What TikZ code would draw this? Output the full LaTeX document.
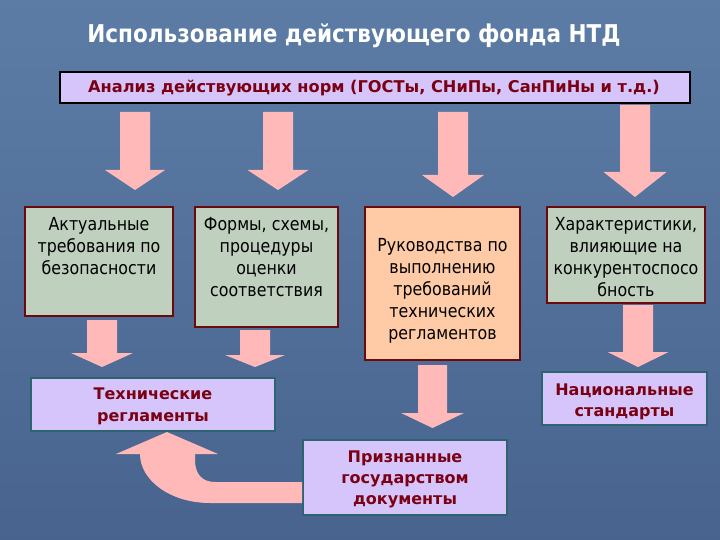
\documentclass[tikz,border=0pt]{standalone}
\usepackage{fontspec}
\setmainfont{DejaVu Sans}[FakeStretch=0.88]
\newfontfamily\widesans{DejaVu Sans}
\definecolor{bgtop}{RGB}{92,124,166}
\definecolor{bgbot}{RGB}{72,100,142}
\definecolor{pinkfill}{RGB}{255,185,185}
\definecolor{greenfill}{RGB}{191,208,191}
\definecolor{peachfill}{RGB}{255,203,166}
\definecolor{lavfill}{RGB}{213,197,250}
\definecolor{redline}{RGB}{106,10,10}
\definecolor{tealline}{RGB}{45,100,112}
\definecolor{redtext}{RGB}{122,0,20}
\newcommand\myarrow[6]{%
  \fill[pinkfill] (#1,#3) -- (#2,#3) -- (#2,#4) -- ({#2+#5},#4) -- ({(#1+#2)/2},#6) -- ({#1-#5},#4) -- (#1,#4) -- cycle;}
\begin{document}
\begin{tikzpicture}[x=1pt,y=-1pt,
  regbox/.style={draw=redline,line width=2.4pt,inner sep=0pt},
  lavbox/.style={draw=tealline,fill=lavfill,line width=2pt,inner sep=0pt},
  regtext/.style={inner sep=0pt,align=center,anchor=north,font=\fontsize{18}{22}\selectfont,text=black},
  boldtext/.style={inner sep=0pt,align=center,anchor=north,font=\widesans\bfseries\fontsize{16}{21}\selectfont,text=redtext}]
\useasboundingbox (0,0) rectangle (720,540);
\shade[top color=bgtop,bottom color=bgbot] (0,0) rectangle (720,540);
% title
\node[anchor=base,text=white,font=\bfseries\fontsize{24.5}{28}\selectfont,inner sep=0pt] (title) at (354,43) {Использование действующего фонда НТД};
% top box
\node[draw=black,fill=lavfill,line width=2pt,minimum width=630,minimum height=31,inner sep=0pt] (top) at (375,87.5) {};
\node[anchor=base,text=redtext,font=\widesans\bfseries\fontsize{16.2}{20}\selectfont,inner sep=0pt] (toptext) at (374,93) {Анализ действующих норм (ГОСТы, СНиПы, СанПиНы и т.д.)};
% arrows from top
\myarrow{120}{150}{112}{170}{15}{190}
\myarrow{263}{293}{112}{170}{15.5}{190}
\myarrow{438}{468}{112}{175}{16}{197}
\myarrow{620}{650}{105}{172}{16.5}{197}
% level 2 boxes
\node[regbox,fill=greenfill,minimum width=148,minimum height=109] (A) at (99,261.5) {};
\node[regbox,fill=greenfill,minimum width=143,minimum height=120] (B) at (266.5,267) {};
\node[regbox,fill=peachfill,minimum width=155,minimum height=153] (C) at (442.5,283.5) {};
\node[regbox,fill=greenfill,minimum width=158,minimum height=96] (D) at (626,255) {};
\node[regtext] (Atext) at (99,214.6) {\strut Актуальные\\требования по\\безопасности};
\node[regtext] (Btext) at (266.5,214.6) {\strut Формы, схемы,\\процедуры\\оценки\\соответствия};
\node[regtext] (Ctext) at (442.5,235.6) {\strut Руководства по\\выполнению\\требований\\технических\\регламентов};
\node[regtext] (Dtext) at (626,214.6) {\strut Характеристики,\\влияющие на\\конкурентоспосо\\бность};
% arrows level 2
\myarrow{87}{117}{320}{353}{16}{367}
\myarrow{240}{270}{330}{355}{15}{367}
\myarrow{418}{447}{365}{413}{17}{428}
\myarrow{623}{653}{305}{352}{15.5}{367}
% bottom boxes
\node[lavbox,minimum width=244,minimum height=53] (TR) at (153,404.5) {};
\node[lavbox,minimum width=165,minimum height=53] (NS) at (624.5,398.5) {};
\node[lavbox,minimum width=204,minimum height=75] (PG) at (405,477.5) {};
\node[boldtext,font=\widesans\bfseries\fontsize{16}{22}\selectfont] (TRtext) at (153,383.6) {\strut Технические\\регламенты};
\node[boldtext] (NStext) at (624.5,380.3) {\strut Национальные\\стандарты};
\node[boldtext] (PGtext) at (405,447.3) {\strut Признанные\\государством\\документы};
% curved arrow from PG to TR
\fill[pinkfill] (PG.west |- 0,482) -- (PG.west |- 0,503) -- (210,503)
  .. controls (170,503) and (140,480) .. (140,454) -- (116,454) -- (TR.south -| 167,0) -- (218,454) -- (195,454) -- (195,460)
  .. controls (195,475) and (203,482) .. (215,482) -- cycle;
\end{tikzpicture}
\end{document}
